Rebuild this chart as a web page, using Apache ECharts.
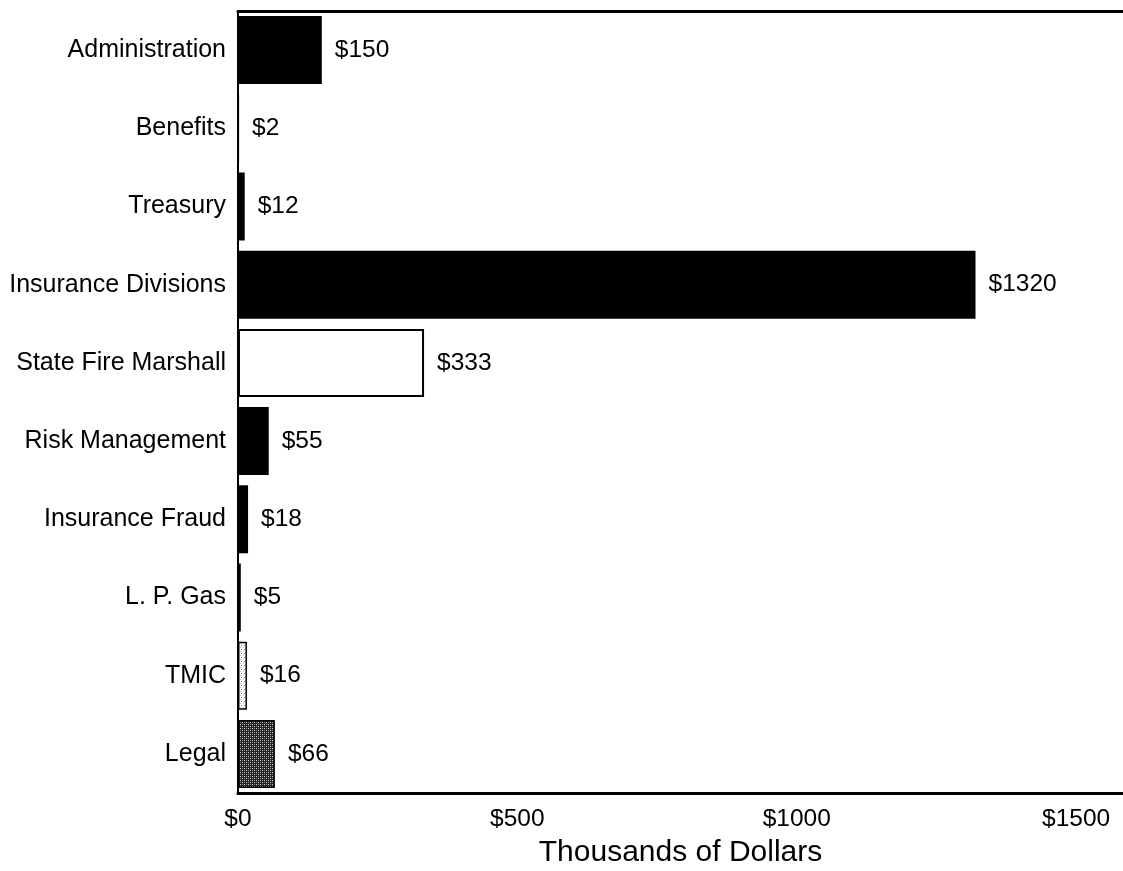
<!DOCTYPE html>
<html>
<head>
<meta charset="utf-8">
<script src="https://cdn.jsdelivr.net/npm/echarts@6/dist/echarts.min.js"></script>
<style>
  html, body { margin: 0; padding: 0; background: #fff; }
  #chart { width: 1123px; height: 871px; }
</style>
</head>
<body>
<div id="chart"></div>
<script>
// Budget by division, in thousands of dollars
const categories = [
  'Administration', 'Benefits', 'Treasury', 'Insurance Divisions',
  'State Fire Marshall', 'Risk Management', 'Insurance Fraud',
  'L. P. Gas', 'TMIC', 'Legal'
];
const amounts = [150, 2, 12, 1320, 333, 55, 18, 5, 16, 66];
// Fill style per bar: solid black, hollow, light dots or dark checker
const fills = ['solid', 'solid', 'solid', 'solid', 'hollow', 'solid', 'solid', 'solid', 'dots', 'checker'];
const tickValues = [0, 500, 1000, 1500];

const FONT = "'Liberation Sans', Arial, Helvetica, sans-serif";

function makePattern(kind) {
  const c = document.createElement('canvas');
  if (kind === 'checker') {
    c.width = 4; c.height = 4;
    const g = c.getContext('2d');
    g.fillStyle = '#222'; g.fillRect(0, 0, 4, 4);
    g.fillStyle = '#d8d8d8';
    g.fillRect(0, 0, 1, 1); g.fillRect(2, 2, 1, 1);
    g.fillStyle = '#888';
    g.fillRect(2, 0, 1, 1); g.fillRect(0, 2, 1, 1);
  } else {
    c.width = 3; c.height = 4;
    const g = c.getContext('2d');
    g.fillStyle = '#fff'; g.fillRect(0, 0, 3, 4);
    g.fillStyle = '#777';
    g.fillRect(1, 1, 1, 1);
    g.fillStyle = '#bbb';
    g.fillRect(0, 3, 1, 1);
  }
  return { image: c, repeat: 'repeat' };
}

const styleFor = {
  solid: { color: '#000' },
  hollow: { color: '#fff', borderColor: '#000', borderWidth: 2 },
  dots: { color: makePattern('dots'), borderColor: '#000', borderWidth: 1.5 },
  checker: { color: makePattern('checker'), borderColor: '#000', borderWidth: 1.5 }
};

const barData = amounts.map((v, i) => ({ value: v, itemStyle: styleFor[fills[i]] }));

const chart = echarts.init(document.getElementById('chart'), null, { renderer: 'canvas' });
chart.setOption({
  backgroundColor: '#fff',
  animation: false,
  grid: { left: 238, right: 0, top: 11, bottom: 78, containLabel: false, outerBoundsMode: 'none' },
  xAxis: [{
    type: 'value',
    min: 0,
    max: 1584,
    interval: 500,
    position: 'bottom',
    name: 'Thousands of Dollars',
    nameLocation: 'middle',
    nameGap: 45,
    nameTextStyle: { fontFamily: FONT, fontSize: 30, color: '#000' },
    axisLine: { show: true, lineStyle: { color: '#000', width: 3 } },
    axisTick: { show: false },
    splitLine: { show: false },
    axisLabel: {
      fontFamily: FONT, fontSize: 24.5, color: '#000', margin: 14,
      showMaxLabel: false,
      formatter: v => tickValues.includes(v) ? '$' + v : ''
    }
  }, {
    type: 'value',
    min: 0,
    max: 1584,
    position: 'top',
    axisLine: { show: true, lineStyle: { color: '#000', width: 3 } },
    axisTick: { show: false },
    axisLabel: { show: false },
    splitLine: { show: false }
  }],
  yAxis: {
    type: 'category',
    inverse: true,
    data: categories,
    axisLine: { show: true, onZero: false, lineStyle: { color: '#000', width: 2 } },
    axisTick: { show: false },
    axisLabel: { fontFamily: FONT, fontSize: 25, color: '#000', margin: 12 }
  },
  series: [{
    type: 'bar',
    xAxisIndex: 0,
    data: barData,
    barWidth: 68,
    label: {
      show: true,
      position: 'right',
      distance: 13,
      fontFamily: FONT,
      fontSize: 24.5,
      color: '#000',
      formatter: p => '$' + p.value
    }
  }]
});
</script>
</body>
</html>
